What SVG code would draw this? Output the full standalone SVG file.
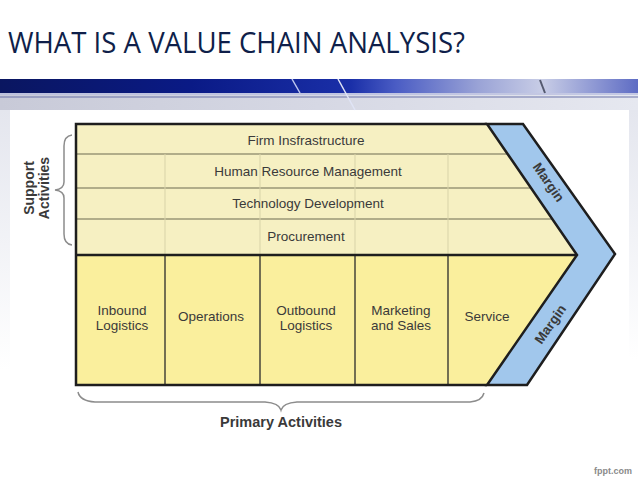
<svg xmlns="http://www.w3.org/2000/svg" width="638" height="479" viewBox="0 0 638 479">
<defs>
<linearGradient id="band" x1="0" y1="0" x2="1" y2="0">
<stop offset="0" stop-color="#0a1660"/>
<stop offset="0.3" stop-color="#0a1a86"/>
<stop offset="0.55" stop-color="#1a2fa8"/>
<stop offset="0.62" stop-color="#4a5cc4"/>
<stop offset="0.75" stop-color="#9aa3d6"/>
<stop offset="0.85" stop-color="#c8cde6"/>
<stop offset="1" stop-color="#5e6cc4"/>
</linearGradient>
<linearGradient id="grey" x1="0" y1="0" x2="1" y2="0">
<stop offset="0" stop-color="#c8cad8"/>
<stop offset="0.5" stop-color="#d6d8e4"/>
<stop offset="1" stop-color="#e6e8f0"/>
</linearGradient>
<linearGradient id="side" x1="0" y1="0" x2="0" y2="1">
<stop offset="0" stop-color="#e4e6ee"/>
<stop offset="1" stop-color="#ffffff"/>
</linearGradient>
<style>
.t{font-family:"Liberation Sans",Arial,sans-serif;font-size:13.5px;fill:#3a3a3a;text-anchor:middle}
.b{font-family:"Liberation Sans",Arial,sans-serif;font-weight:bold;fill:#3a3a3a;text-anchor:middle}
.thin{stroke-width:1;fill:none}
.thick{stroke:#1e1e1e;stroke-width:2.5;fill:none}
.brace{stroke:#8c8c8c;stroke-width:1.5;fill:none}
</style>
</defs>
<rect width="638" height="479" fill="#ffffff"/>
<text x="8" y="53" font-family="'Open Sans','Liberation Sans',sans-serif" font-size="29" fill="#0f1f4a" textLength="457" lengthAdjust="spacingAndGlyphs">WHAT IS A VALUE CHAIN ANALYSIS?</text>
<g id="banner">
<rect x="0" y="92" width="638" height="18" fill="url(#grey)"/>
<rect x="0" y="110" width="10" height="260" fill="url(#side)"/>
<rect x="629" y="110" width="9" height="250" fill="url(#side)"/>
<rect x="0" y="79" width="638" height="14" fill="url(#band)"/>
<line x1="0" y1="94" x2="638" y2="94" stroke="#b9bedf" stroke-width="1.5"/>
<line x1="0" y1="97" x2="638" y2="97" stroke="#6a73a8" stroke-width="1"/>
<line x1="292" y1="79" x2="300" y2="93" stroke="#c0c8f0" stroke-width="1.5"/>
<line x1="338" y1="79" x2="355" y2="110" stroke="#e0e4f6" stroke-width="1.5"/>
<line x1="540" y1="80" x2="545" y2="93" stroke="#555a70" stroke-width="2"/>
</g>
<g id="frame">
<polygon points="76,124 487,124 577,255 76,255" fill="#f6f0c2"/>
<polygon points="76,255 577,255 487,385 76,385" fill="#faef9d"/>
</g>
<g id="support-rows">
<line class="thin" x1="76" y1="154" x2="508" y2="154" stroke="#6c6a50"/>
<line class="thin" x1="76" y1="188" x2="531" y2="188" stroke="#6c6a50"/>
<line class="thin" x1="76" y1="219" x2="553" y2="219" stroke="#6c6a50"/>
<line class="thin" x1="165" y1="154" x2="165" y2="255" stroke="#d8d3a8"/>
<line class="thin" x1="260" y1="154" x2="260" y2="255" stroke="#d8d3a8"/>
<line class="thin" x1="355" y1="154" x2="355" y2="255" stroke="#d8d3a8"/>
<line class="thin" x1="448" y1="154" x2="448" y2="255" stroke="#d8d3a8"/>
</g>
<g id="firm-infrastructure"><text class="t" x="306" y="145">Firm Insfrastructure</text></g>
<g id="hrm"><text class="t" x="308" y="176">Human Resource Management</text></g>
<g id="technology"><text class="t" x="308" y="208">Technology Development</text></g>
<g id="procurement"><text class="t" x="306" y="241">Procurement</text></g>
<g id="primary-columns">
<line x1="165" y1="255" x2="165" y2="385" stroke="#2a2a2a" stroke-width="1.3"/>
<line x1="260" y1="255" x2="260" y2="385" stroke="#2a2a2a" stroke-width="1.3"/>
<line x1="355" y1="255" x2="355" y2="385" stroke="#2a2a2a" stroke-width="1.3"/>
<line x1="448" y1="255" x2="448" y2="385" stroke="#2a2a2a" stroke-width="1.3"/>
</g>
<g id="inbound"><text class="t" x="122" y="315">Inbound</text><text class="t" x="122" y="330">Logistics</text></g>
<g id="operations"><text class="t" x="211" y="321">Operations</text></g>
<g id="outbound"><text class="t" x="306" y="315">Outbound</text><text class="t" x="306" y="330">Logistics</text></g>
<g id="marketing"><text class="t" x="401" y="315">Marketing</text><text class="t" x="401" y="330">and Sales</text></g>
<g id="service"><text class="t" x="487" y="321">Service</text></g>
<g id="margin">
<polygon points="487,124 523,124 615,254 527,385 487,385 577,255" fill="#a1c7ec" stroke="#1e1e1e" stroke-width="2.5" stroke-linejoin="miter"/>
<text class="b" font-size="13.5" transform="translate(549,182) rotate(55)" y="5">Margin</text>
<text class="b" font-size="13.5" transform="translate(550,324) rotate(-55)" y="5">Margin</text>
</g>
<g id="outline">
<polyline class="thick" points="487,124 76,124 76,385 487,385"/>
<line class="thick" x1="76" y1="255" x2="577" y2="255"/>
</g>
<g id="support-label">
<path class="brace" d="M72,135 Q64,136 64,146 L64,182 Q64,189 55,190 Q64,191 64,198 L64,234 Q64,244 72,245"/>
<text class="b" font-size="14" transform="translate(34,188) rotate(-90)">Support</text>
<text class="b" font-size="14" transform="translate(49,188) rotate(-90)">Activities</text>
</g>
<g id="primary-label">
<path class="brace" d="M78,392 Q80,401 95,402 L265,402 Q279,403 281,410 Q283,403 297,402 L470,402 Q482,401 484,393"/>
<text class="b" font-size="14.5" x="281" y="427">Primary Activities</text>
</g>
<text x="632" y="474" font-family="'Liberation Sans',Arial,sans-serif" font-size="9" font-weight="bold" fill="#8a8a8a" text-anchor="end">fppt.com</text>
</svg>
